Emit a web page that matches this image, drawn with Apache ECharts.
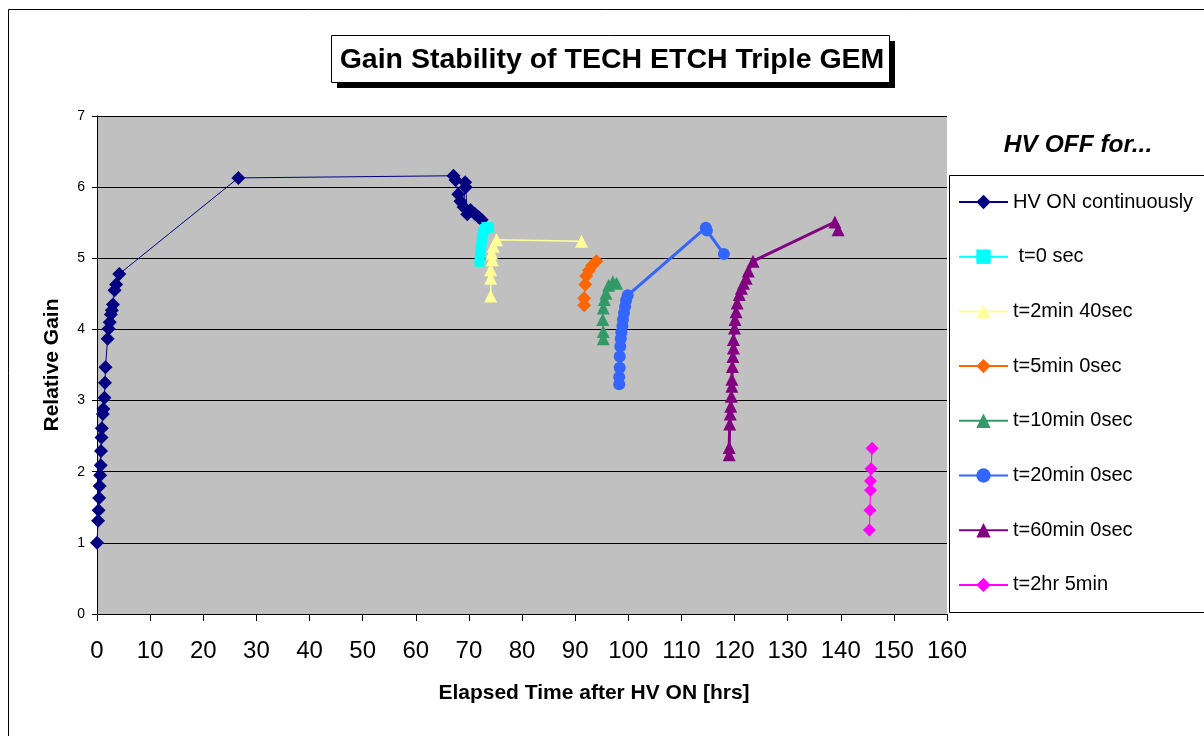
<!DOCTYPE html>
<html>
<head>
<meta charset="utf-8">
<script src="https://cdn.jsdelivr.net/npm/echarts@6/dist/echarts.min.js"></script>
<style>
html,body{margin:0;padding:0;background:#fff;}
#chart{width:1204px;height:736px;}
</style>
</head>
<body>
<div id="chart"></div>
<script>
// ---- Data ----
const titleText = "Gain Stability of TECH ETCH Triple GEM";
const xTitle = "Elapsed Time after HV ON [hrs]";
const yTitle = "Relative Gain";
const legendTitle = "HV OFF for...";
const seriesNames = ["HV ON continuously", " t=0 sec", "t=2min 40sec", "t=5min 0sec", "t=10min 0sec", "t=20min 0sec", "t=60min 0sec", "t=2hr 5min"];

const hvOn = [[0,1.0],[0.2,1.31],[0.3,1.46],[0.4,1.63],[0.5,1.8],[0.6,1.95],[0.7,2.09],[0.75,2.29],[0.85,2.48],[0.9,2.61],[1.1,2.81],[1.2,2.88],[1.4,3.04],[1.5,3.25],[1.6,3.47],[2.0,3.87],[2.2,4.01],[2.4,4.1],[2.6,4.21],[2.8,4.27],[3.0,4.35],[3.3,4.55],[3.6,4.63],[4.2,4.78],[26.6,6.13],[67.1,6.16],[67.5,6.1],[68.0,5.9],[68.4,5.8],[69.0,5.72],[69.3,6.07],[69.4,6.0],[69.7,5.62],[70.3,5.68],[71.2,5.62],[71.8,5.58],[72.4,5.54]];
const off0s = [[72.0,4.95],[72.1,5.03],[72.2,5.1],[72.3,5.17],[72.4,5.24],[72.5,5.3],[72.7,5.36],[73.0,5.41],[73.3,5.44],[73.8,5.43]];
const off2m40 = [[74.1,4.47],[74.1,4.72],[74.1,4.84],[74.4,4.98],[74.3,5.07],[74.6,5.17],[75.2,5.26],[91.2,5.24]];
const off5m = [[91.7,4.34],[91.7,4.44],[91.9,4.63],[92.1,4.75],[92.6,4.83],[93.2,4.9],[94.0,4.96]];
const off10m = [[95.3,3.87],[95.3,3.97],[95.2,4.14],[95.3,4.3],[95.5,4.42],[95.8,4.51],[96.3,4.62],[97.1,4.67],[97.8,4.65]];
const off20m = [[98.3,3.23],[98.3,3.33],[98.4,3.46],[98.4,3.62],[98.5,3.76],[98.6,3.87],[98.7,3.96],[98.9,4.05],[99.0,4.14],[99.2,4.23],[99.4,4.32],[99.6,4.41],[99.9,4.48],[114.6,5.43],[114.8,5.39],[118.0,5.06]];
const off60m = [[119.0,2.24],[119.0,2.34],[119.1,2.67],[119.2,2.81],[119.3,2.92],[119.4,3.06],[119.5,3.2],[119.5,3.3],[119.6,3.48],[119.7,3.62],[119.8,3.74],[119.8,3.86],[120.0,4.02],[120.1,4.14],[120.3,4.25],[120.5,4.37],[120.9,4.49],[121.3,4.58],[121.7,4.65],[122.2,4.72],[122.6,4.82],[123.5,4.96],[138.9,5.51],[139.5,5.4]];
const off2h5m = [[145.4,1.18],[145.5,1.46],[145.6,1.74],[145.6,1.87],[145.7,2.04],[145.9,2.33]];

const xMin = 0, xMax = 160, xStep = 10;
const yMin = 0, yMax = 7, yStep = 1;

// ---- Styling ----
const FONT = "'Liberation Sans', Arial, sans-serif";
const styles = [
  {color:'#000080', symbol:'diamond', size:14, width:1},
  {color:'#00FFFF', symbol:'rect', size:10, width:2},
  {color:'#FFFF99', symbol:'triangle', size:13, width:1.5},
  {color:'#FF6600', symbol:'diamond', size:14, width:1},
  {color:'#339966', symbol:'triangle', size:13, width:1},
  {color:'#3366FF', symbol:'circle', size:12, width:3},
  {color:'#800080', symbol:'triangle', size:13, width:3},
  {color:'#FF00FF', symbol:'diamond', size:13, width:1}
];
const datasets = [hvOn, off0s, off2m40, off5m, off10m, off20m, off60m, off2h5m];

const series = datasets.map((d, i) => ({
  name: seriesNames[i],
  type: 'line',
  data: d,
  symbol: styles[i].symbol,
  symbolSize: styles[i].size,
  showSymbol: true,
  lineStyle: {color: styles[i].color, width: styles[i].width},
  itemStyle: {color: styles[i].color, borderWidth: 0},
  emphasis: {disabled: true},
  animation: false,
  z: 3 + i
}));

const chart = echarts.init(document.getElementById('chart'), null, {renderer: 'canvas'});
chart.setOption({
  backgroundColor: '#ffffff',
  animation: false,
  title: {
    text: titleText,
    left: 607,
    top: 41,
    textAlign: 'center',
    textStyle: {fontFamily: FONT, fontSize: 28.5, fontWeight: 'bold', color: '#000'},
    z: 10
  },
  grid: {
    left: 97, top: 116, width: 850, height: 498,
    show: true, backgroundColor: '#C0C0C0', borderWidth: 0
  },
  xAxis: {
    type: 'value', min: xMin, max: xMax, interval: xStep,
    axisLine: {show: true, onZero: false, lineStyle: {color: '#000', width: 1}},
    axisTick: {show: true, length: 7, lineStyle: {color: '#000'}},
    axisLabel: {fontFamily: FONT, fontSize: 24, color: '#000', margin: 25},
    splitLine: {show: false}
  },
  yAxis: {
    type: 'value', min: yMin, max: yMax, interval: yStep,
    name: yTitle, nameLocation: 'middle', nameGap: 34,
    nameTextStyle: {fontFamily: FONT, fontSize: 21, fontWeight: 'bold', color: '#000'},
    axisLine: {show: true, lineStyle: {color: '#000', width: 1}},
    axisTick: {show: true, length: 5, lineStyle: {color: '#000'}},
    axisLabel: {fontFamily: FONT, fontSize: 14, color: '#000', margin: 12},
    splitLine: {show: true, lineStyle: {color: '#000', width: 1}}
  },
  legend: {
    orient: 'vertical',
    left: 958, top: 191,
    padding: 0,
    itemWidth: 49, itemHeight: 18,
    itemGap: 32.7,
    selectedMode: false,
    data: seriesNames,
    textStyle: {fontFamily: FONT, fontSize: 20, color: '#000', lineHeight: 22},
    z: 10
  },
  graphic: [
    {type: 'rect', shape: {x: 8.5, y: 9.5, width: 1300, height: 900}, style: {fill: 'none', stroke: '#000', lineWidth: 1}, z: -10, silent: true},
    {type: 'rect', shape: {x: 337, y: 41, width: 558, height: 47}, style: {fill: '#000'}, z: 1, silent: true},
    {type: 'rect', shape: {x: 331.5, y: 35.5, width: 558, height: 47}, style: {fill: '#fff', stroke: '#000', lineWidth: 1}, z: 2, silent: true},
    {type: 'rect', shape: {x: 949.5, y: 175.5, width: 400, height: 437}, style: {fill: '#fff', stroke: '#000', lineWidth: 1}, z: 1, silent: true},
    {type: 'text', x: 1078, y: 145, style: {text: legendTitle, fontFamily: FONT, fontSize: 24.5, fontWeight: 'bold', fontStyle: 'italic', fill: '#000', align: 'center', verticalAlign: 'middle'}, z: 5, silent: true},
    {type: 'text', x: 594, y: 693, style: {text: xTitle, fontFamily: FONT, fontSize: 21, fontWeight: 'bold', fill: '#000', align: 'center', verticalAlign: 'middle'}, z: 5, silent: true}
  ],
  series: series
});
</script>
</body>
</html>
